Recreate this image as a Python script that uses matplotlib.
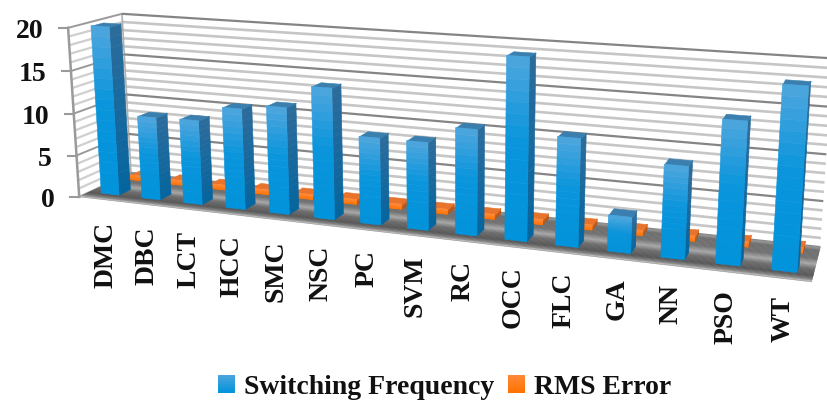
import numpy as np
import matplotlib
matplotlib.use("Agg")
import matplotlib.pyplot as plt
from matplotlib.collections import PolyCollection
from matplotlib.colors import LinearSegmentedColormap
from matplotlib.legend_handler import HandlerBase
from matplotlib.patches import Rectangle, Patch

categories = ["DMC","DBC","LCT","HCC","SMC","NSC","PC","SVM","RC","OCC","FLC","GA","NN","PSO","WT"]
switching_frequency = [20,9.8,9.9,11.7,12.3,14.9,9.8,9.8,11.7,19.8,11.7,3.9,9.8,14.9,18.8]
rms_error = [0.6]*15
y_major = [0,5,10,15,20]
y_all = list(range(0,21))
series_names = ["Switching Frequency","RMS Error"]

# Perspective camera of the 3-D chart: (category, value, depth) -> pixel
CAMERA = np.array([
    [39.4123861379236, -0.6557593811055041, 60.189103046052224, 79.22985454307455],
    [2.4004015072600535, -8.490825192392096, -12.72921393786616, 196.83704300565148],
    [-0.011592267628140251, -0.0014501383917954313, 0.06457830422568085, 1.0]])
BAR_W = .44
BLUE_Z = (.2,.42)
ORANGE_Z = (.76,.97)

def proj(u,v,z):
    q=CAMERA@np.array([u,v,z,1.0]); return q[:2]/q[2]

plt.rcParams['font.family']=['Liberation Serif','DejaVu Serif']
fig=plt.figure(figsize=(8.27,4.03),dpi=100)
ax=fig.add_axes([0,0,1,1]); ax.set_xlim(0,827); ax.set_ylim(403,0); ax.axis('off')

def cm(stops):
    return LinearSegmentedColormap.from_list('c',stops)

def grad_quad(p00,p10,p11,p01,cmap,n=16,zorder=2):
    polys=[];cols=[]
    p00,p10,p11,p01=map(np.array,(p00,p10,p11,p01))
    for k in range(n):
        t0,t1=k/n,(k+1)/n
        polys.append([p00+(p01-p00)*t0,p10+(p11-p10)*t0,p10+(p11-p10)*t1,p00+(p01-p00)*t1])
        cols.append(cmap((t0+t1)/2))
    ax.add_collection(PolyCollection(polys,facecolors=cols,edgecolors='face',linewidths=.4,zorder=zorder))

# floor
floor_cm=cm([(0,'#8c8c8c'),(.03,'#c4c4c4'),(.07,'#8a8a8a'),(.18,'#565656'),(.38,'#6c6c6c'),(.52,'#a8a8a8'),(.68,'#707070'),(.92,'#6e6e6e'),(1,'#9a9a9a')])
grad_quad(proj(0,0,0),proj(15,0,0),proj(15,0,1),proj(0,0,1),floor_cm,n=40,zorder=1)

# walls: grid lines, ticks, tick labels
for v in y_all:
    major=v in y_major
    pts=np.array([proj(0,v,0),proj(0,v,1),proj(15,v,1)])
    ax.plot(pts[1:,0],pts[1:,1],color='#858585' if major else '#c6c6c6',lw=1.6 if major else 1.9,
            zorder=.6 if major else .5,solid_capstyle='butt')
    ax.plot(pts[:2,0],pts[:2,1],color='#9a9a9a' if major else '#cfcfcf',lw=1.4 if major else 1.6,
            zorder=.6 if major else .5,solid_capstyle='butt')
    if major:
        t=pts[0]
        ax.plot([t[0]-9,t[0]],[t[1],t[1]],color='#9a9a9a',lw=1.5,zorder=.7)
        ax.text(t[0]-24.5,t[1]+3.5,str(v),ha='right',va='center',fontsize=20,fontweight='bold',color='#111111')
e=np.array([proj(0,0,0),proj(0,20,0)]); ax.plot(e[:,0],e[:,1],color='#9a9a9a',lw=1.8,zorder=.8)
e=np.array([proj(0,0,1),proj(0,20,1)]); ax.plot(e[:,0],e[:,1],color='#b0b0b0',lw=1.2,zorder=.55)

def box(u0,u1,z0,z1,v,front,side,top,zorder):
    grad_quad(proj(u0,0,z0),proj(u1,0,z0),proj(u1,v,z0),proj(u0,v,z0),front,zorder=zorder+.1)
    grad_quad(proj(u1,0,z0),proj(u1,0,z1),proj(u1,v,z1),proj(u1,v,z0),side,zorder=zorder)
    poly=[proj(u0,v,z0),proj(u1,v,z0),proj(u1,v,z1),proj(u0,v,z1)]
    ax.add_collection(PolyCollection([poly],facecolors=top,edgecolors='face',linewidths=.4,zorder=zorder))

blue_f=cm([(0,'#0093db'),(.55,'#0a95dc'),(1,'#4fa6dd')])
blue_s=cm([(0,'#04659f'),(1,'#2d6c9b')])
or_f=cm([(0,'#ff7200'),(1,'#ff8a3a')])
or_s=cm([(0,'#b5530f'),(1,'#c8662a')])
for i,rms in enumerate(rms_error):
    box(i+.5-BAR_W/2,i+.5+BAR_W/2,*ORANGE_Z,rms,or_f,or_s,'#e8732c',3)
for i,sf in enumerate(switching_frequency):
    box(i+.5-BAR_W/2,i+.5+BAR_W/2,*BLUE_Z,sf,blue_f,blue_s,'#3a7fae',4+i*.01)

n=len(categories)
for i,c in enumerate(categories):
    x,y=proj(i+.5,0,0)
    f=i/(n-1)
    ax.text(x+7-6*f,y+22.5-4.5*f,c,rotation=90,ha='center',va='top',fontsize=20,fontweight='bold',color='#111111')

class GradHandler(HandlerBase):
    def __init__(self,cmap):
        super().__init__(); self.cmap=cmap
    def create_artists(self,legend,orig,xd,yd,width,height,fontsize,trans):
        k=12; out=[]
        for j in range(k):
            out.append(Rectangle((-xd,-yd+height*j/k),width,height/k*1.05,facecolor=self.cmap((j+.5)/k),
                                 edgecolor='none',transform=trans))
        return out
h1=Patch(label=series_names[0]);h2=Patch(label=series_names[1])
leg=ax.legend(handles=[h1,h2],loc='center',bbox_to_anchor=(444.5,387),bbox_transform=ax.transData,ncol=2,frameon=False,
  prop={'size':20,'weight':'bold','family':['Liberation Serif']},handlelength=.62,handleheight=.62,handletextpad=.3,
  columnspacing=.52,borderpad=0,borderaxespad=0,
  handler_map={h1:GradHandler(cm([(0,'#0093db'),(1,'#4fa6dd')])),h2:GradHandler(cm([(0,'#ff7200'),(1,'#ff8a3a')]))})
for t in leg.get_texts(): t.set_color('#111111')
fig.savefig('out.png',dpi=100)
